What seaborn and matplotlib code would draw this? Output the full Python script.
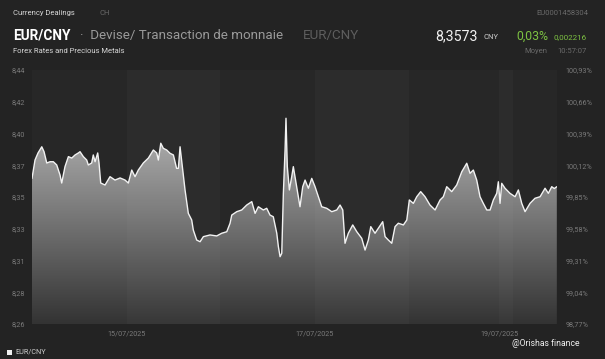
import numpy as np
import matplotlib
matplotlib.use("Agg")
import matplotlib.pyplot as plt
from matplotlib.colors import LinearSegmentedColormap
from matplotlib.patches import Polygon, Rectangle
import pandas as pd
import seaborn as sns

# ---------------- data ----------------
day_pos = [-1.011, -0.979, -0.947, -0.907, -0.883, -0.854, -0.819, -0.784, -0.748, -0.713,
           -0.695, -0.660, -0.624, -0.588, -0.553, -0.518, -0.500, -0.465, -0.429, -0.412,
           -0.376, -0.359, -0.340, -0.312, -0.298, -0.280, -0.234, -0.181, -0.128, -0.074,
           -0.021, 0.014, 0.050, 0.085, 0.120, 0.173, 0.227, 0.280, 0.316, 0.333,
           0.359, 0.386, 0.422, 0.457, 0.493, 0.527, 0.546, 0.564, 0.593, 0.617,
           0.652, 0.688, 0.705, 0.741, 0.777, 0.812, 0.883, 0.954, 1.007, 1.061,
           1.096, 1.114, 1.167, 1.220, 1.273, 1.327, 1.362, 1.397, 1.450, 1.486,
           1.521, 1.556, 1.593, 1.610, 1.628, 1.646, 1.663, 1.681, 1.691, 1.705,
           1.727, 1.752, 1.769, 1.805, 1.840, 1.869, 1.894, 1.929, 1.965, 2.000,
           2.035, 2.071, 2.124, 2.178, 2.231, 2.266, 2.295, 2.319, 2.354, 2.401,
           2.444, 2.497, 2.532, 2.567, 2.593, 2.638, 2.673, 2.720, 2.745, 2.780,
           2.816, 2.851, 2.886, 2.940, 2.976, 3.003, 3.046, 3.082, 3.124, 3.170,
           3.223, 3.277, 3.330, 3.365, 3.401, 3.454, 3.507, 3.561, 3.614, 3.649,
           3.684, 3.720, 3.755, 3.790, 3.827, 3.862, 3.897, 3.933, 3.950, 3.968,
           3.986, 4.021, 4.074, 4.128, 4.163, 4.199, 4.234, 4.287, 4.340, 4.394,
           4.447, 4.482, 4.518, 4.545, 4.572]
rate = [8.3632, 8.3762, 8.3812, 8.3856, 8.3821, 8.3741, 8.3750, 8.3750, 8.3727, 8.3656,
        8.3599, 8.3715, 8.3786, 8.3776, 8.3798, 8.3812, 8.3821, 8.3786, 8.3762, 8.3727,
        8.3741, 8.3798, 8.3750, 8.3812, 8.3741, 8.3599, 8.3585, 8.3644, 8.3620, 8.3635,
        8.3620, 8.3599, 8.3691, 8.3644, 8.3691, 8.3741, 8.3776, 8.3833, 8.3812, 8.3762,
        8.3881, 8.3845, 8.3833, 8.3810, 8.3798, 8.3703, 8.3703, 8.3856, 8.3691, 8.3550,
        8.3384, 8.3337, 8.3266, 8.3195, 8.3183, 8.3219, 8.3231, 8.3224, 8.3243, 8.3254,
        8.3314, 8.3372, 8.3396, 8.3408, 8.3443, 8.3467, 8.3384, 8.3431, 8.3408, 8.3420,
        8.3372, 8.3360, 8.3243, 8.3148, 8.3077, 8.3101, 8.3526, 8.3833, 8.4058, 8.3715,
        8.3550, 8.3644, 8.3715, 8.3573, 8.3431, 8.3573, 8.3620, 8.3562, 8.3632, 8.3573,
        8.3502, 8.3431, 8.3420, 8.3396, 8.3408, 8.3443, 8.3408, 8.3172, 8.3243, 8.3302,
        8.3254, 8.3207, 8.3124, 8.3195, 8.3290, 8.3243, 8.3278, 8.3325, 8.3219, 8.3195,
        8.3172, 8.3290, 8.3314, 8.3302, 8.3337, 8.3479, 8.3455, 8.3502, 8.3538, 8.3502,
        8.3443, 8.3408, 8.3479, 8.3502, 8.3573, 8.3538, 8.3585, 8.3679, 8.3739, 8.3668,
        8.3691, 8.3620, 8.3502, 8.3455, 8.3408, 8.3408, 8.3479, 8.3526, 8.3608, 8.3455,
        8.3597, 8.3562, 8.3526, 8.3502, 8.3550, 8.3455, 8.3396, 8.3455, 8.3491, 8.3502,
        8.3562, 8.3526, 8.3573, 8.3560, 8.3573]

y_ticks = [8.26, 8.2825, 8.305, 8.3275, 8.35, 8.3725, 8.395, 8.4175, 8.44]
y_labels = ["8,26", "8,28", "8,31", "8,33", "8,35", "8,37", "8,40", "8,42", "8,44"]
pct_labels = ["98,77%", "99,04%", "99,31%", "99,58%", "99,85%", "100,12%", "100,39%", "100,66%", "100,93%"]
day_ticks = [0.0, 0.99, 2.0, 3.0, 3.96, 4.11]
day_tick_labels = ["15/07/2025", "", "17/07/2025", "", "19/07/2025", ""]
bands = [(0.0, 0.99), (2.0, 3.0), (3.96, 4.11)]

df = pd.DataFrame({"day": day_pos, "rate": rate})

# ---------------- style ----------------
sns.set_theme(style="dark")
plt.rcParams["font.family"] = ["Roboto", "DejaVu Sans"]

FIG_BG = "#232323"
AX_BG = "#272727"
fig = plt.figure(figsize=(6.05, 3.59), dpi=100, facecolor=FIG_BG)
x0, x1, yb, yt = 32 / 605, 557 / 605, 1 - 324 / 359, 1 - 70 / 359
ax = fig.add_axes([x0, yb, x1 - x0, yt - yb])
ax.set_facecolor(AX_BG)

# gradient fill under curve
cmap = LinearSegmentedColormap.from_list("g", ["#333333", "#b4b4b4"])
grad = np.linspace(0, 1, 256).reshape(-1, 1)
im = ax.imshow(grad, extent=[day_pos[0], day_pos[-1], 8.26, 8.405], origin="lower",
               aspect="auto", cmap=cmap, zorder=2, interpolation="bicubic")
verts = list(zip(day_pos, rate)) + [(day_pos[-1], 8.26), (day_pos[0], 8.26)]
poly = Polygon(verts, closed=True, facecolor="none", edgecolor="none", transform=ax.transData)
ax.add_patch(poly)
im.set_clip_path(poly)

# alternate day bands
for a, b in bands:
    ax.axvspan(a, b, color="white", alpha=0.025, lw=0, zorder=3)

sns.lineplot(data=df, x="day", y="rate", ax=ax, color="#f2f2f2", lw=1.0, zorder=4)

ax.set_xlim(-1.011, 4.574)
ax.set_ylim(8.26, 8.44)
ax.set_xlabel("")
ax.set_ylabel("")
for s in ax.spines.values():
    s.set_visible(False)
ax.grid(False)

ax.set_yticks(y_ticks)
ax.set_yticklabels(y_labels)
ax.tick_params(axis="y", length=0, pad=5, labelsize=5.2, labelcolor="#7a7a7a")
ax.set_xticks(day_ticks)
ax.set_xticklabels(day_tick_labels)
ax.tick_params(axis="x", length=3, width=0.6, color="#555555", direction="inout",
               pad=3, labelsize=5.2, labelcolor="#7a7a7a")

ax2 = ax.twinx()
ax2.set_ylim(8.26, 8.44)
ax2.set_yticks(y_ticks)
ax2.set_yticklabels(pct_labels)
ax2.tick_params(axis="y", length=0, pad=6, labelsize=5.2, labelcolor="#7a7a7a")
for s in ax2.spines.values():
    s.set_visible(False)
ax2.grid(False)

# ---------------- header texts ----------------
def T(x, y, s, **kw):
    fig.text(x / 605, 1 - y / 359, s, va="center", **kw)

T(13, 13, "Currency Dealings", fontsize=5.5, color="#d8d8d8")
T(100, 13, "CH", fontsize=5.5, color="#6a6a6a")
T(588, 13, "EU0001458304", fontsize=5.5, color="#6a6a6a", ha="right")
T(13, 36, "EUR/CNY", fontsize=9.8, color="#ffffff", fontweight="bold")
T(80, 36, "·  Devise/ Transaction de monnaie", fontsize=9.6, color="#9a9a9a")
T(303, 36, "EUR/CNY", fontsize=9.6, color="#5e5e5e")
T(435, 36, "8,3573", fontsize=10.2, color="#f0f0f0")
T(483, 37, "CNY", fontsize=5.5, color="#d0d0d0")
T(516, 36, "0,03%", fontsize=8.8, color="#7dc242")
T(587, 37, "0,002216", fontsize=5.8, color="#7dc242", ha="right")
T(13, 51, "Forex Rates and Precious Metals", fontsize=5.5, color="#d8d8d8")
T(524, 51, "Moyen", fontsize=5.5, color="#6a6a6a")
T(587, 51, "10:57:07", fontsize=5.5, color="#6a6a6a", ha="right")

# legend & watermark
fig.patches.append(Rectangle((7 / 605, 1 - 355 / 359), 5 / 605, 5 / 359,
                             transform=fig.transFigure, facecolor="#f0f0f0", edgecolor="none"))
T(15, 352, "EUR/CNY", fontsize=5.2, color="#d0d0d0")
T(512, 343, "@Orishas finance", fontsize=6.2, color="#f0f0f0")

fig.savefig("out.png", dpi=100, facecolor=FIG_BG)
